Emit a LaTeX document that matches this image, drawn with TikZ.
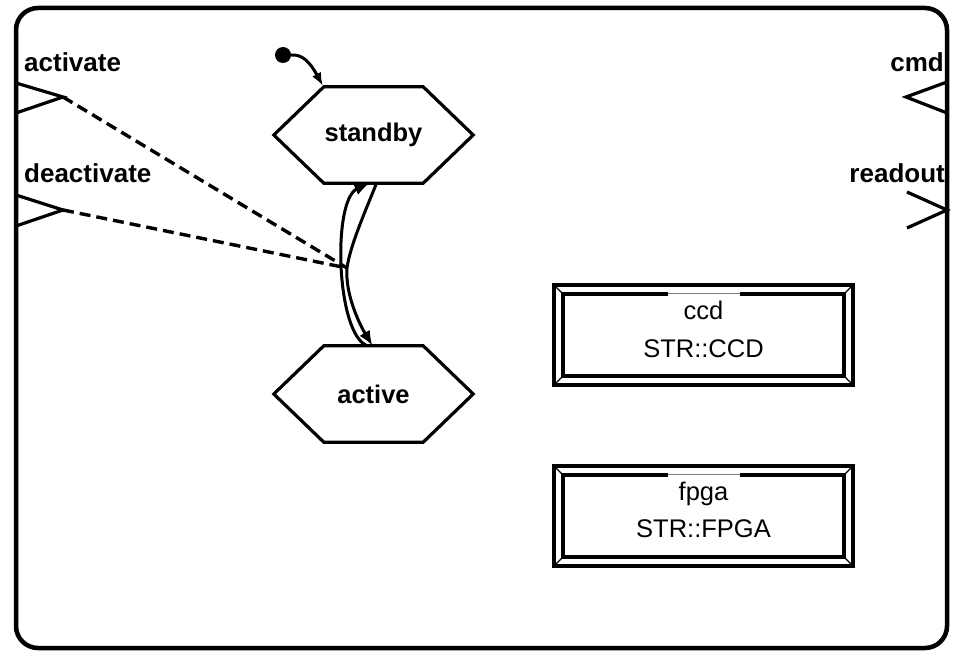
\documentclass[tikz,border=0pt]{standalone}
\usepackage{fontspec}
\setmainfont{Liberation Sans}
\usetikzlibrary{arrows.meta}
\begin{document}
\begin{tikzpicture}[x=1pt,y=-1pt,
  frame/.style={line width=4.5pt, rounded corners=22pt},
  statebox/.style={minimum width=199pt, minimum height=96pt, inner sep=0pt, font=\fontsize{25.5}{30}\selectfont\bfseries},
  hexline/.style={line width=3.2pt, line join=miter},
  portline/.style={line width=3.2pt},
  portlabel/.style={inner sep=0pt, font=\fontsize{26}{30}\selectfont\bfseries},
  trans/.style={line width=3pt, -{Latex[length=15pt,width=12pt]}},
  trig/.style={line width=3.4pt, dash pattern=on 11pt off 6pt},
  partbox/.style={minimum width=299pt, minimum height=100pt, inner sep=0pt},
  partlabel/.style={inner sep=0pt, font=\fontsize{25.5}{30}\selectfont},
]
\useasboundingbox (0,0) rectangle (957,652);
\draw[frame] (16,8) rectangle (947,648);

% states
\node[statebox] (standby) at (373.5,135) {standby};
\node[statebox] (active) at (373.5,394) {active};
\foreach \s in {standby,active}{
  \draw[hexline] (\s.west) -- ([xshift=50pt]\s.north west) -- ([xshift=-50pt]\s.north east)
    -- (\s.east) -- ([xshift=-50pt]\s.south east) -- ([xshift=50pt]\s.south west) -- cycle;
}

% initial state
\node[circle, fill, inner sep=0pt, minimum size=16pt] (init) at (283,55) {};
\draw[line width=3pt, -{Latex[length=13pt,width=10pt]}] (init.east) .. controls (302,54) and (310,62) .. ([xshift=49pt,yshift=1pt]standby.north west);

% transitions
\coordinate (cross) at (347,268);
\draw[trans] ([xshift=-6pt]active.north) .. controls (336,335) and (332,200) .. ([xshift=-4pt]standby.south);
\draw[trans] ([xshift=3pt]standby.south) .. controls (368,205) and (350,245) .. (cross)
  .. controls (345,295) and (360,325) .. ([xshift=-1pt]active.north);

% ports
\coordinate (pa) at (63,97);
\coordinate (pd) at (63,210);
\coordinate (pc) at (906,97);
\coordinate (pr) at (947,210);
\draw[portline] (16,83) -- (pa) -- (16,113);
\draw[portline] (16,195) -- (pd) -- (16,226);
\draw[portline] (947,82) -- (pc) -- (947,113);
\draw[portline] (907,192) -- (pr) -- (907,228);
\node[portlabel, anchor=base west] (lact) at (24,72) {activate};
\node[portlabel, anchor=base west] (ldeact) at (24,183) {deactivate};
\node[portlabel, anchor=base east] (lcmd) at (944,72) {cmd};
\node[portlabel, anchor=base east] (lread) at (945,183) {readout};

% trigger links
\draw[trig] (pa) -- (cross);
\draw[trig] (pd) -- (cross);

% parts
\node[partbox] (ccd) at (703.5,335) {};
\node[partbox] (fpga) at (703.5,516) {};
\foreach \b in {ccd,fpga}{
  \draw[line width=3.5pt] (\b.north west) rectangle (\b.south east);
  \draw[line width=3.5pt] ([xshift=-36pt,yshift=-9pt]\b.north) -- ([shift={(9pt,-9pt)}]\b.north west)
    -- ([shift={(9pt,9pt)}]\b.south west) -- ([shift={(-9pt,9pt)}]\b.south east)
    -- ([shift={(-9pt,-9pt)}]\b.north east) -- ([xshift=36pt,yshift=-9pt]\b.north);
  \draw[gray, line width=1pt] ([xshift=-36pt,yshift=-9pt]\b.north) -- ([xshift=36pt,yshift=-9pt]\b.north);
  \draw[line width=1.2pt] (\b.north west) -- ([shift={(9pt,-9pt)}]\b.north west);
  \draw[line width=1.2pt] (\b.south west) -- ([shift={(9pt,9pt)}]\b.south west);
  \draw[line width=1.2pt] (\b.south east) -- ([shift={(-9pt,9pt)}]\b.south east);
  \draw[line width=1.2pt] (\b.north east) -- ([shift={(-9pt,-9pt)}]\b.north east);
}
\node[partlabel, anchor=base] (ccdname) at (703.5,319) {ccd};
\node[partlabel, anchor=base] (ccdtype) at (703.5,357) {STR::CCD};
\node[partlabel, anchor=base] (fpganame) at (703.5,500) {fpga};
\node[partlabel, anchor=base] (fpgatype) at (703.5,537) {STR::FPGA};
\end{tikzpicture}
\end{document}
